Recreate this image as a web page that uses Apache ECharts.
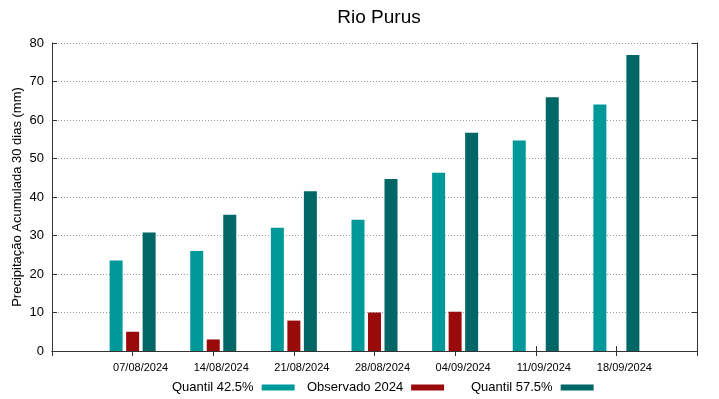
<!DOCTYPE html>
<html>
<head>
<meta charset="utf-8">
<title>Rio Purus</title>
<script src="https://cdn.jsdelivr.net/npm/echarts@6/dist/echarts.min.js"></script>
<style>
  html, body { margin: 0; padding: 0; background: #fff; }
  #chart { width: 719px; height: 399px; }
</style>
</head>
<body>
<div id="chart"></div>
<script>
// datas das semanas
const datas = ['07/08/2024', '14/08/2024', '21/08/2024', '28/08/2024', '04/09/2024', '11/09/2024', '18/09/2024']
// series (mm)
const quantil425 = [23.5, 26.0, 32.0, 34.1, 46.3, 54.7, 64.0]
const observado2024 = [5.0, 3.0, 7.9, 10.0, 10.2, '-', '-']
const quantil575 = [30.8, 35.4, 41.5, 44.7, 56.7, 65.9, 76.9]
const yTicks = [0, 10, 20, 30, 40, 50, 60, 70, 80]

const corQ425 = '#009999'
const corObs = '#990b0b'
const corQ575 = '#006666'
const fonte = 'Liberation Sans, Arial, sans-serif'

// eixo x vai de 0 a 8, com as datas nas posicoes 1..7
const eixoX = [''].concat(datas, [''])
const pad = (arr) => ['-'].concat(arr, ['-'])

const chart = echarts.init(document.getElementById('chart'), null, { renderer: 'canvas' })

const legenda = (nome, left) => ({
  data: [nome],
  left: left,
  top: 381,
  align: 'right',
  icon: 'rect',
  itemWidth: 33,
  itemHeight: 6,
  padding: 0,
  selectedMode: false,
  textStyle: { fontFamily: fonte, fontSize: 13, color: '#000', padding: [0, 3, 0, 0] }
})

const option = {
  animation: false,
  backgroundColor: '#fff',
  title: {
    text: 'Rio Purus',
    left: 374,
    textAlign: 'center',
    top: 3,
    textStyle: { fontFamily: fonte, fontSize: 19, fontWeight: 'normal', color: '#000' }
  },
  legend: [
    legenda('Quantil 42.5%', 172),
    legenda('Observado 2024', 307),
    legenda('Quantil 57.5%', 471)
  ],
  grid: { left: 52, right: 22, top: 43, bottom: 48, containLabel: false, outerBoundsMode: 'none' },
  xAxis: [
    {
      type: 'category',
      data: eixoX,
      boundaryGap: false,
      axisLine: { lineStyle: { color: '#333', width: 1 } },
      axisTick: { inside: true, length: 5, lineStyle: { color: '#333' } },
      axisLabel: { fontFamily: fonte, fontSize: 11, color: '#000', margin: 11, padding: [0, 0, 0, 16], interval: 0 },
      splitLine: { show: false }
    },
    {
      type: 'category',
      position: 'top',
      data: eixoX,
      boundaryGap: false,
      axisLine: { lineStyle: { color: '#333', width: 1 } },
      axisTick: { inside: true, length: 5, lineStyle: { color: '#333' } },
      axisLabel: { show: false },
      splitLine: { show: false }
    }
  ],
  yAxis: [
    {
      type: 'value',
      min: yTicks[0],
      max: yTicks[yTicks.length - 1],
      interval: 10,
      name: 'Precipitação Acumulada 30 dias (mm)',
      nameLocation: 'middle',
      nameGap: 28,
      nameMoveOverlap: false,
      nameTextStyle: { fontFamily: fonte, fontSize: 13, color: '#000' },
      axisLine: { show: true, lineStyle: { color: '#333', width: 1 } },
      axisTick: { show: true, inside: true, length: 5, lineStyle: { color: '#333' } },
      axisLabel: { fontFamily: fonte, fontSize: 13, color: '#000', margin: 8 },
      splitLine: { show: true, lineStyle: { color: '#9a9a9a', type: [1, 2], width: 1 } }
    },
    {
      type: 'value',
      position: 'right',
      min: yTicks[0],
      max: yTicks[yTicks.length - 1],
      interval: 10,
      axisLine: { show: true, lineStyle: { color: '#333', width: 1 } },
      axisTick: { show: true, inside: true, length: 5, lineStyle: { color: '#333' } },
      axisLabel: { show: false },
      splitLine: { show: false }
    }
  ],
  series: [
    {
      name: 'Quantil 42.5%',
      type: 'bar',
      data: pad(quantil425),
      barWidth: 13,
      barGap: '27%',
      itemStyle: { color: corQ425 }
    },
    {
      name: 'Observado 2024',
      type: 'bar',
      data: pad(observado2024),
      barWidth: 13,
      barGap: '27%',
      itemStyle: { color: corObs }
    },
    {
      name: 'Quantil 57.5%',
      type: 'bar',
      data: pad(quantil575),
      barWidth: 13,
      barGap: '27%',
      itemStyle: { color: corQ575 }
    }
  ]
}

chart.setOption(option)
</script>
</body>
</html>
